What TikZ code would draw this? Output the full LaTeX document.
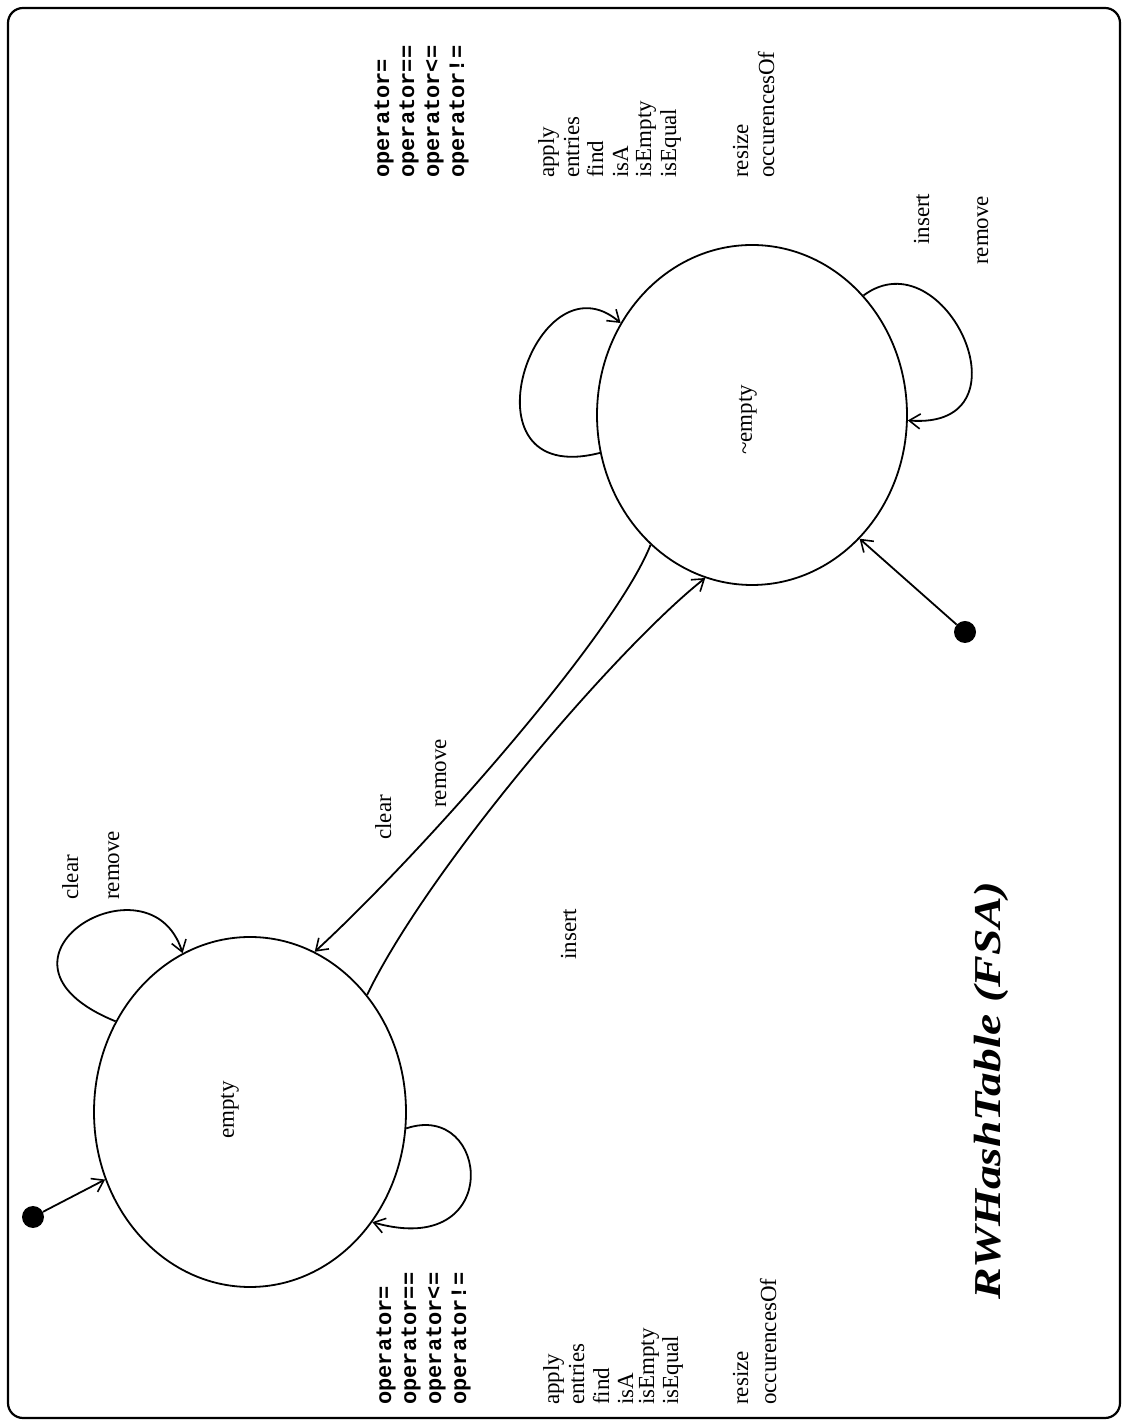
\documentclass[tikz,border=0pt]{standalone}
\usepackage{fontspec}
\setmainfont{Liberation Serif}
\newfontfamily\opfont{Liberation Mono}
\usetikzlibrary{shapes.geometric,arrows.meta}
\begin{document}
\begin{tikzpicture}[x=1pt,y=1pt,
  state/.style={draw, ellipse, line width=1.8pt, inner sep=0pt},
  lbl/.style={rotate=90, anchor=base west, inner sep=0pt, font=\fontsize{23}{23}\selectfont},
  oplbl/.style={lbl, font=\fontsize{22}{22}\selectfont\opfont\bfseries},
  edge/.style={line width=1.8pt, -{Straight Barb[length=11pt,width=15pt,line width=1.6pt]}},
  dot/.style={circle, fill, minimum size=22pt, inner sep=0pt}]
\useasboundingbox (0,0) rectangle (1126,1425);
\draw[line width=2.2pt, rounded corners=15pt] (8,7) rectangle (1120,1417);

% states
\node[state, minimum width=312pt, minimum height=350pt] (L) at (250,313) {};
\node[state, minimum width=310pt, minimum height=340pt] (R) at (752,1010) {};
\node[lbl, anchor=center] (Ltxt) at (230,315) {empty};
\node[lbl, anchor=center] (Rtxt) at (748,1005) {\textasciitilde empty};

% initial dots
\node[dot] (iL) at (33,208) {};
\node[dot] (iR) at (965,793) {};
\draw[edge] (iL) -- (L.205);
\draw[edge] (iR) -- (R.-49);

% transitions
\draw[edge] (R.232) .. controls (615,790) and (420,570) .. (L.68);
\draw[edge] (L.45) .. controls (430,560) and (620,780) .. (R.254);

% self loops
\draw[edge] (L.146) .. controls (-35,465) and (150,575) .. (L.113.6);
\draw[edge] (L.-6) .. controls (490,325) and (505,165) .. (L.-42);
\draw[edge] (R.194.5) .. controls (455,935) and (535,1175) .. (R.145.8);
\draw[edge] (R.47.8) .. controls (945,1190) and (1035,995) .. (R.-2.6);

% loop and transition labels
\node[lbl] (lc) at (78,525) {clear};
\node[lbl] (lr) at (119,525) {remove};
\node[lbl] (tc) at (391,585) {clear};
\node[lbl] (tr) at (446,617) {remove};
\node[lbl] (ti) at (576,465) {insert};
\node[lbl] (ri) at (929,1180) {insert};
\node[lbl] (rr) at (988,1160) {remove};

% top group (state ~empty)
\node[oplbl] (a1) at (389,1247) {operator=};
\node[oplbl] (a2) at (414,1247) {operator==};
\node[oplbl] (a3) at (439,1247) {operator<=};
\node[oplbl] (a4) at (464,1247) {operator!=};
\node[lbl] (a5) at (554,1247) {apply};
\node[lbl] (a6) at (579,1247) {entries};
\node[lbl] (a7) at (603,1247) {find};
\node[lbl] (a8) at (628,1247) {isA};
\node[lbl] (a9) at (651,1247) {isEmpty};
\node[lbl] (a10) at (676,1247) {isEqual};
\node[lbl] (a11) at (748,1247) {resize};
\node[lbl] (a12) at (774,1247) {occurencesOf};

% bottom group (state empty)
\node[oplbl] (b1) at (391,20) {operator=};
\node[oplbl] (b2) at (416,20) {operator==};
\node[oplbl] (b3) at (441,20) {operator<=};
\node[oplbl] (b4) at (466,20) {operator!=};
\node[lbl] (b5) at (559,20) {apply};
\node[lbl] (b6) at (584,20) {entries};
\node[lbl] (b7) at (609,20) {find};
\node[lbl] (b8) at (633,20) {isA};
\node[lbl] (b9) at (654,20) {isEmpty};
\node[lbl] (b10) at (678,20) {isEqual};
\node[lbl] (b11) at (748,20) {resize};
\node[lbl] (b12) at (776,20) {occurencesOf};

% title
\node[rotate=90, anchor=base west, inner sep=0pt] (title) at (1000,125)
  {\scalebox{1.25}[1]{\fontsize{38}{38}\selectfont\bfseries\itshape RWHashTable (FSA)}};
\end{tikzpicture}
\end{document}
